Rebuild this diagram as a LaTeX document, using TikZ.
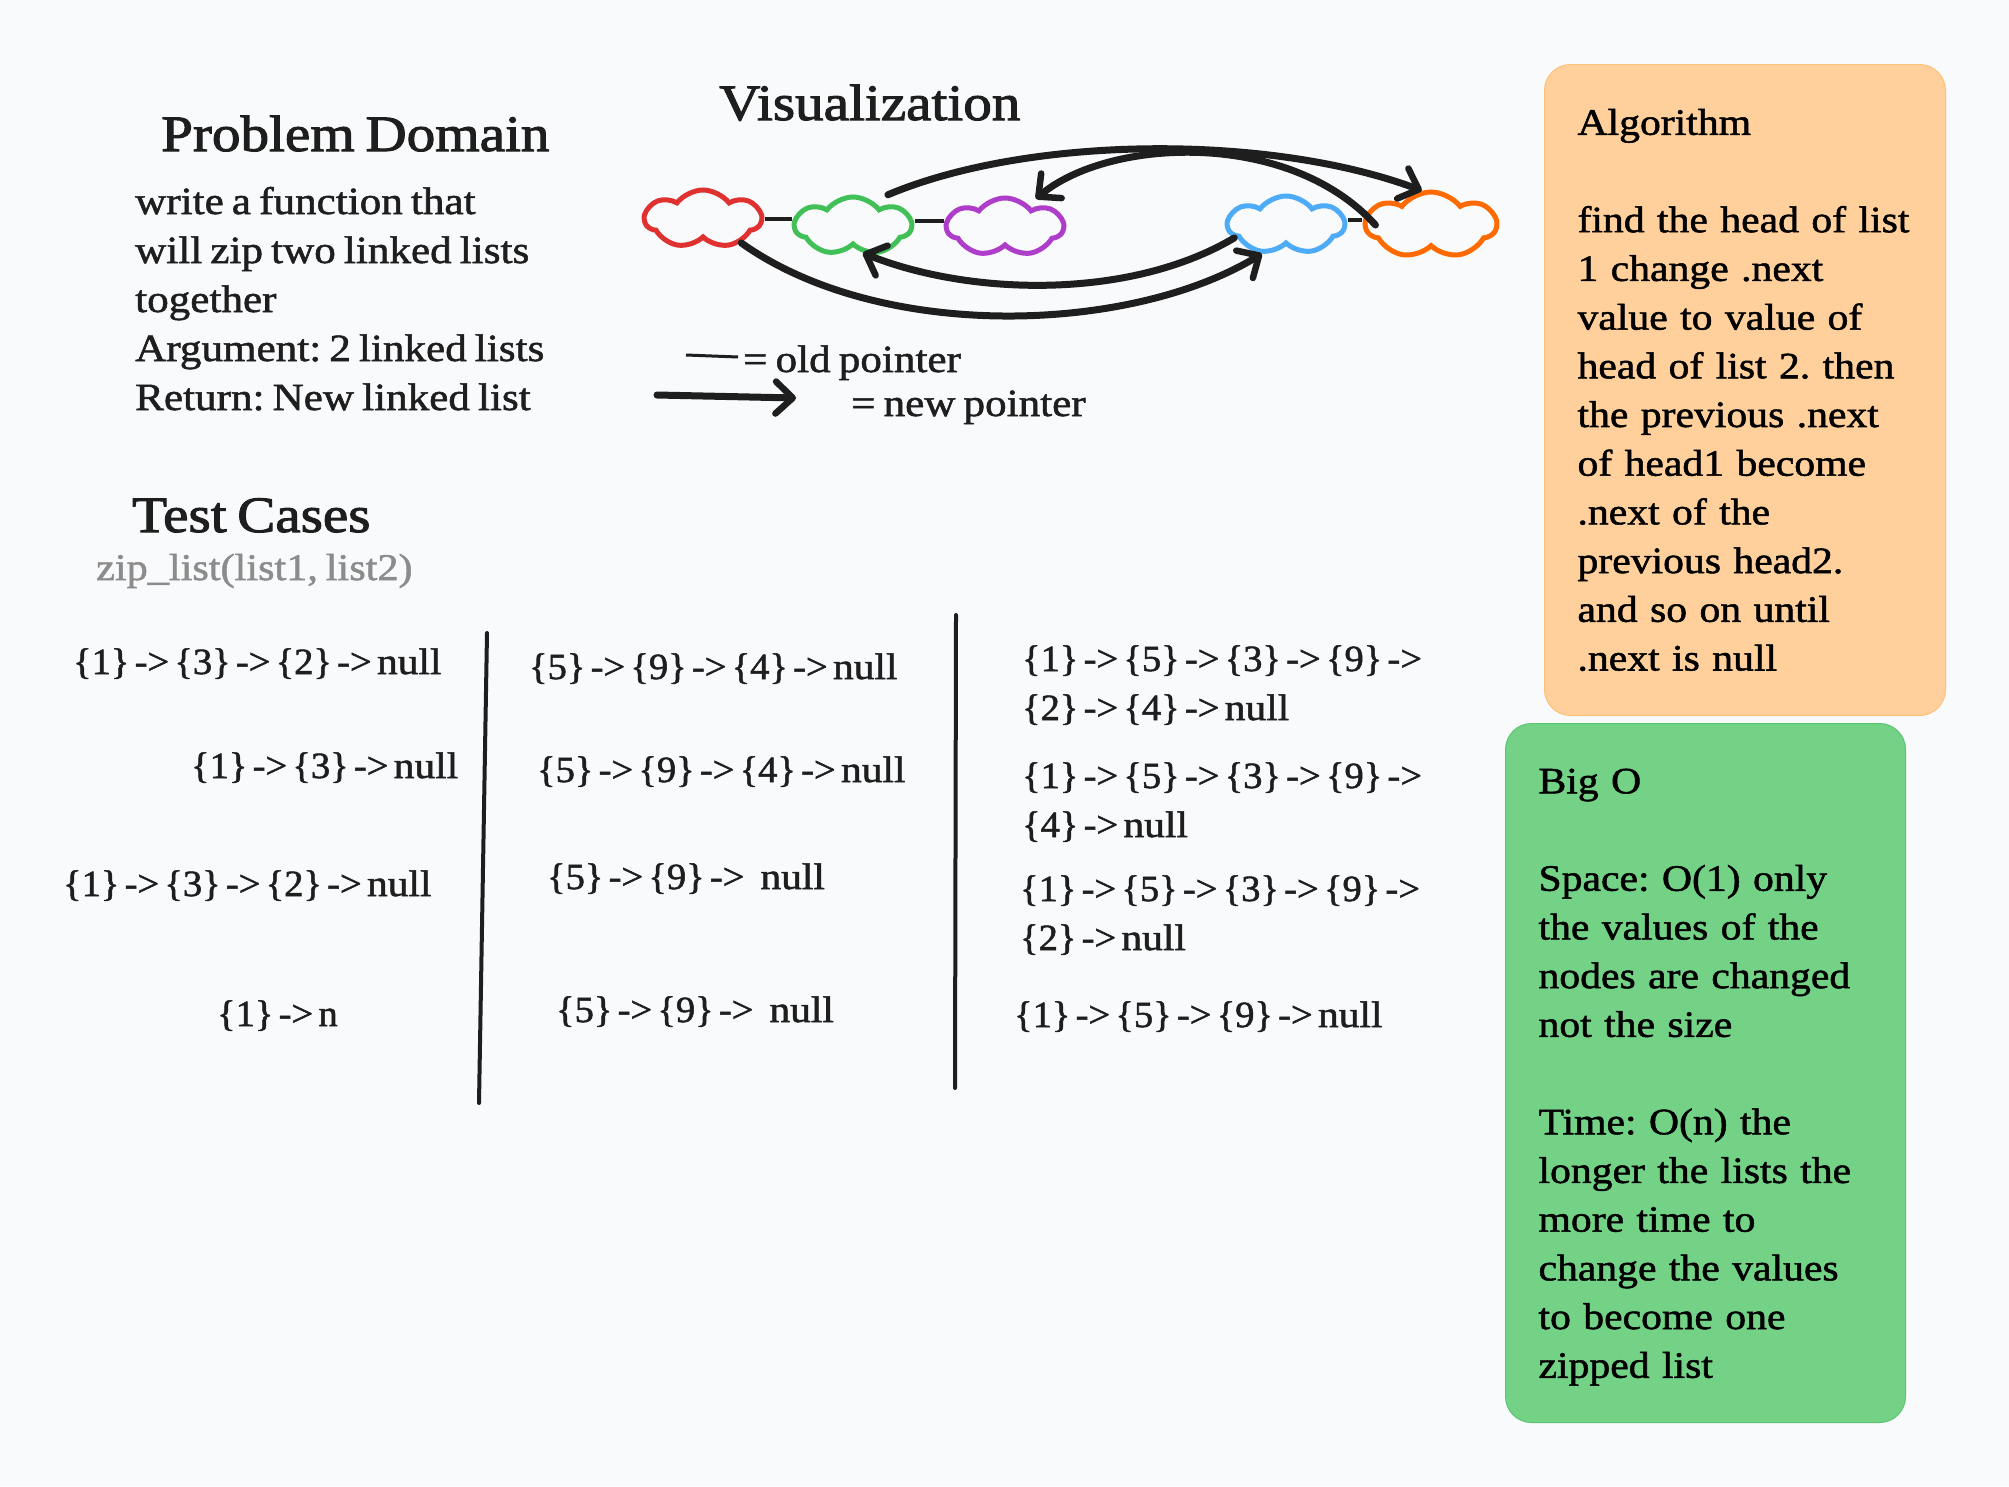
\documentclass[tikz,border=0pt]{standalone}
\usepackage{fontspec}
\setmainfont{Liberation Serif}[FakeStretch=1.12, FakeBold=1.4, WordSpace=0.75]
\newfontfamily\listfont{Liberation Serif}[FakeStretch=1.04, FakeBold=1.4, WordSpace=0.55]
\newfontfamily\headfont{Liberation Serif}[FakeStretch=1.12, FakeBold=2, WordSpace=0.75]
\usetikzlibrary{shapes.symbols,arrows.meta}

\definecolor{pagebg}{HTML}{F9FAFC}
\definecolor{ink}{HTML}{1E1E1E}
\definecolor{algofill}{HTML}{FFD09B}
\definecolor{algoedge}{HTML}{FFC078}
\definecolor{bigofill}{HTML}{74D287}
\definecolor{bigoedge}{HTML}{5CC471}
\definecolor{cred}{HTML}{E03131}
\definecolor{cgrn}{HTML}{40C057}
\definecolor{cpur}{HTML}{AE3EC9}
\definecolor{cblu}{HTML}{4DABF7}
\definecolor{corg}{HTML}{FF6B00}

\newcommand{\nullword}{{\normalfont null}}

\tikzset{
	blob/.style={shape=cloud, cloud puffs=7, cloud puff arc=105, aspect=1.9, draw, line width=5pt, inner sep=0pt, minimum width=116pt, minimum height=58pt},
	oldptr/.style={ink, line width=4pt},
	newptr/.style={ink, line width=7pt, line cap=round, -{Straight Barb[length=17pt, width=32pt, line width=6.5pt, round]}},
	title/.style={anchor=base west, inner sep=0pt, text=ink, font=\fontsize{51}{56}\selectfont\headfont},
	body/.style={anchor=base west, inner sep=0pt, text=ink, align=left, font=\fontsize{38.5}{49}\selectfont},
	caseline/.style={anchor=base west, inner sep=0pt, text=ink, align=left, font=\fontsize{37}{49}\selectfont\listfont},
	panel/.style={anchor=north west, rounded corners=26pt, text=black, align=left, inner sep=0pt, line width=1pt, font=\fontsize{37.2}{48.7}\selectfont},
}

\begin{document}
\frenchspacing
\begin{tikzpicture}[x=1pt, y=-1pt]
	\fill [pagebg] (0,0) rectangle (2009,1486);
	\useasboundingbox (0,0) rectangle (2009,1486);

	% clouds
	\node at (703,219) [blob, draw=cred] (red) {};
	\node at (853,226) [blob, draw=cgrn] (grn) {};
	\node at (1005,227) [blob, draw=cpur] (pur) {};
	\node at (1286,225) [blob, draw=cblu] (blu) {};
	\node at (1431,225) [blob, draw=corg, minimum width=130pt, minimum height=66pt] (org) {};

	\draw [oldptr] (red.east) -- (red.east -| grn.west);
	\draw [oldptr] ([yshift=5pt]grn.east) -- ([yshift=5pt]grn.east -| pur.west);
	\draw [oldptr] ([yshift=5pt]blu.east) -- ([yshift=5pt]blu.east -| org.west);

	\draw [newptr] ([shift={(9pt,11pt)}]grn.38) .. controls (1030,135) and (1270,134) .. (org.105);
	\draw [newptr] ([xshift=13pt]org.west) .. controls (1290,130) and (1110,137) .. ([shift={(7pt,6pt)}]pur.43);
	\draw [newptr] (blu.194) .. controls (1130,300) and (970,296) .. (grn.290);
	\draw [newptr] (red.328) .. controls (880,342) and (1130,334) .. (blu.230);

	% legend
	\coordinate (oldA) at (686,355);
	\coordinate (oldB) at (738,357);
	\coordinate (newA) at (657,395);
	\coordinate (newB) at (796,398);
	\draw [oldptr, line width=3pt] (oldA) -- (oldB);
	\draw [newptr] (newA) -- (newB);
	\node at (743,372) [body] (oldtxt) {= old pointer};
	\node at (851,416) [body] (newtxt) {= new pointer};

	% headings
	\node at (161,151) [title] (domain) {Problem Domain};
	\node at (719,120) [title] (visual) {Visualization};
	\node at (132,532) [title] (cases) {Test Cases};
	\node at (96,580) [body, text=black!45, font=\fontsize{37.7}{49}\selectfont] (call) {zip\_list(list1, list2)};
	\node at (135,410) [body] (prob) {write a function that\\will zip two linked lists\\together\\Argument: 2 linked lists\\Return: New linked list};

	% test cases
	\node at (73,674) [caseline] (a1) {\{1\} -> \{3\} -> \{2\} -> \nullword};
	\node at (191,778) [caseline] (a2) {\{1\} -> \{3\} -> \nullword};
	\node at (63,896) [caseline] (a3) {\{1\} -> \{3\} -> \{2\} -> \nullword};
	\node at (217,1026) [caseline] (a4) {\{1\} -> n};

	\node at (529,679) [caseline] (b1) {\{5\} -> \{9\} -> \{4\} -> \nullword};
	\node at (537,782) [caseline] (b2) {\{5\} -> \{9\} -> \{4\} -> \nullword};
	\node at (547,889) [caseline] (b3) {\{5\} -> \{9\} ->\hspace{16pt}\nullword};
	\node at (556,1022) [caseline] (b4) {\{5\} -> \{9\} ->\hspace{16pt}\nullword};

	\node at (1022,720) [caseline] (c1) {\{1\} -> \{5\} -> \{3\} -> \{9\} ->\\\{2\} -> \{4\} -> \nullword};
	\node at (1022,837) [caseline] (c2) {\{1\} -> \{5\} -> \{3\} -> \{9\} ->\\\{4\} -> \nullword};
	\node at (1020,950) [caseline] (c3) {\{1\} -> \{5\} -> \{3\} -> \{9\} ->\\\{2\} -> \nullword};
	\node at (1014,1027) [caseline] (c4) {\{1\} -> \{5\} -> \{9\} -> \nullword};

	\coordinate (divAt) at (487,633);
	\coordinate (divAb) at (479,1103);
	\coordinate (divBt) at (956,615);
	\coordinate (divBb) at (955,1088);
	\draw [oldptr, line cap=round] (divAt) -- (divAb);
	\draw [oldptr, line cap=round] (divBt) -- (divBb);

	% panels
	\node at (1544,64) [panel, draw=algoedge, fill=algofill, minimum width=401pt, minimum height=651pt, text width=335pt] (algo) {Algorithm\\[48.7pt]find the head of list\\1 change .next\\value to value of\\head of list 2. then\\the previous .next\\of head1 become\\.next of the\\previous head2.\\and so on until\\.next is null};
	\node at (1505,723) [panel, draw=bigoedge, fill=bigofill, minimum width=400pt, minimum height=699pt, text width=334pt] (bigo) {\rule{0pt}{33pt}Big O\\[48.7pt]Space: O(1) only\\the values of the\\nodes are changed\\not the size\\[48.7pt]Time: O(n) the\\longer the lists the\\more time to\\change the values\\to become one\\zipped list};
\end{tikzpicture}
\end{document}
